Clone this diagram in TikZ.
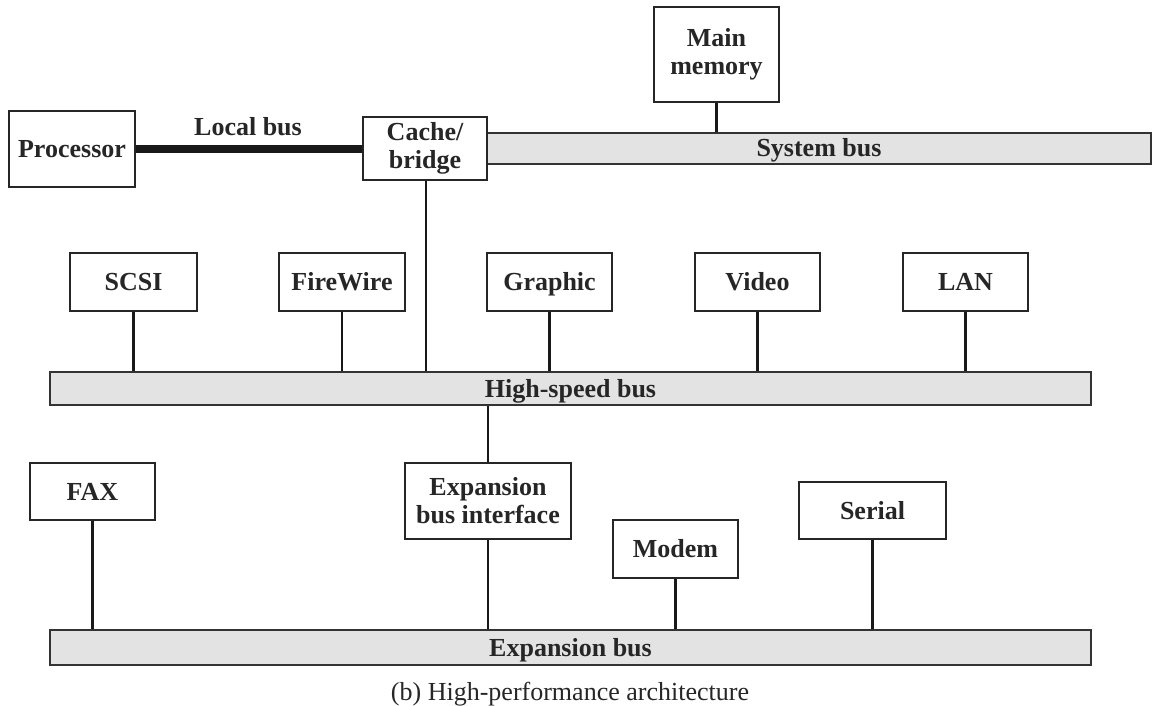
\documentclass[tikz,border=0pt]{standalone}
\usepackage{fontspec}
\setmainfont{Liberation Serif}
\begin{document}
\begin{tikzpicture}[x=1pt,y=-1pt,
  lbl/.style={font=\fontsize{26}{28}\selectfont\bfseries, text=black!85},
  oneline/.style={text height=17pt, text depth=0pt},
  unit/.style={lbl, draw=black!85, line width=1.4pt, fill=white, inner sep=0pt, align=center},
  bus/.style={lbl, oneline, draw=black!80, line width=1.4pt, fill=black!11, inner sep=0pt},
  wire/.style={draw=black!90, line width=2.6pt},
  localwire/.style={draw=black!90, line width=8pt}]
\useasboundingbox (0,0) rectangle (1152,706);

% buses
\node[bus, minimum width=664pt, minimum height=31pt] (sysbus) at (819,148.5) {System bus};
\node[bus, minimum width=1041pt, minimum height=33pt] (hsbus) at (570.5,388.5) {High-speed bus};
\node[bus, minimum width=1041pt, minimum height=35pt] (exbus) at (570.5,647.5) {Expansion bus};

% processor side
\node[unit, oneline, minimum width=126pt, minimum height=76pt] (proc) at (72,149) {Processor};
\node[unit, minimum width=124pt, minimum height=63pt] (cache) at (425,148.5) {Cache/\\bridge};
\node[unit, minimum width=125pt, minimum height=95pt] (mem) at (716.5,54.5) {Main\\memory};
\node[lbl, oneline] (localbus) at (248,127) {Local bus};

% high-speed devices
\node[unit, oneline, minimum width=127pt, minimum height=58pt] (scsi) at (133.5,282) {SCSI};
\node[unit, oneline, minimum width=126pt, minimum height=58pt] (fw) at (342,282) {FireWire};
\node[unit, oneline, minimum width=125pt, minimum height=58pt] (gfx) at (549.5,282) {Graphic};
\node[unit, oneline, minimum width=125pt, minimum height=58pt] (video) at (757.5,282) {Video};
\node[unit, oneline, minimum width=125pt, minimum height=58pt] (lan) at (965.5,282) {LAN};

% expansion devices
\node[unit, oneline, minimum width=125pt, minimum height=57pt] (fax) at (92.5,491.5) {FAX};
\node[unit, minimum width=166pt, minimum height=76pt] (ebi) at (488,501) {Expansion\\bus interface};
\node[unit, oneline, minimum width=125pt, minimum height=58pt] (modem) at (675.5,549) {Modem};
\node[unit, oneline, minimum width=147pt, minimum height=57pt] (serial) at (872.5,510.5) {Serial};

\node[font=\fontsize{26}{28}\selectfont, text=black!85, oneline] (caption) at (570,692) {(b) High-performance architecture};

% connections
\draw[localwire] (proc.east) -- (proc.east -| cache.west);
\draw[wire] (mem.south) -- (mem.south |- sysbus.north);
\draw[wire] ([xshift=1pt]cache.south) -- ([xshift=1pt]cache.south |- hsbus.north);
\foreach \d in {scsi,fw,gfx,video,lan}
  \draw[wire] (\d.south) -- (\d.south |- hsbus.north);
\draw[wire] (ebi.north) -- (ebi.north |- hsbus.south);
\foreach \d in {fax,ebi,modem,serial}
  \draw[wire] (\d.south) -- (\d.south |- exbus.north);
\end{tikzpicture}
\end{document}
